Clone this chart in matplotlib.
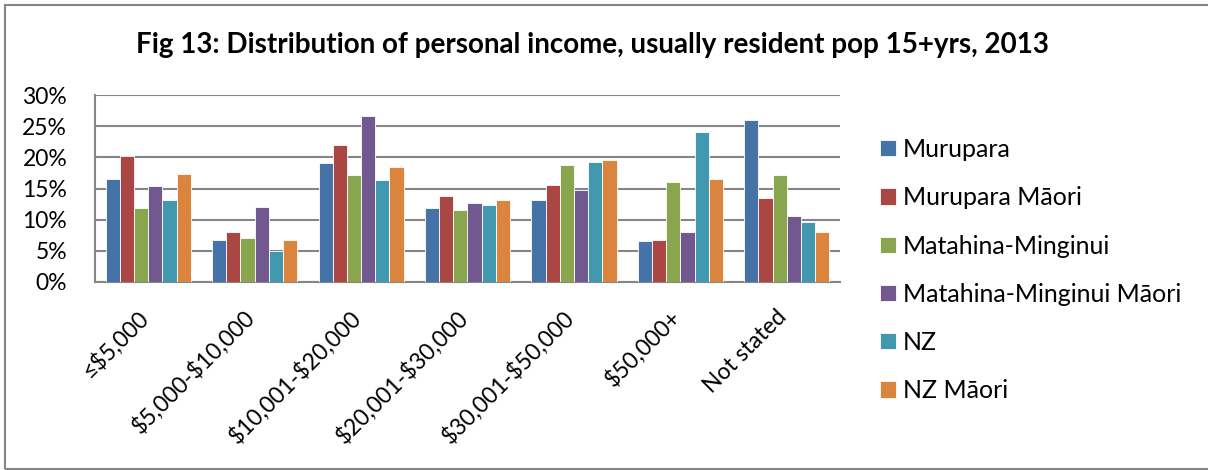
"""Fig 13: distribution of personal income, grouped bar chart."""

import matplotlib
import matplotlib.pyplot as plt
import numpy as np
from matplotlib.patches import Rectangle
from matplotlib.ticker import FuncFormatter
from matplotlib.transforms import ScaledTranslation

matplotlib.use("Agg")

plt.rcParams["font.family"] = ["Lato", "DejaVu Sans"]

CATEGORIES = [r"≤\$5,000", r"\$5,000-\$10,000", r"\$10,001-\$20,000", r"\$20,001-\$30,000",
              r"\$30,001-\$50,000", r"\$50,000+", "Not stated"]

SERIES = ["Murupara", "Murupara Māori", "Matahina-Minginui",
          "Matahina-Minginui Māori", "NZ", "NZ Māori"]

murupara = [16.5, 6.8, 19.1, 11.8, 13.1, 6.5, 26.0]
murupara_maori = [20.2, 8.1, 22.0, 13.8, 15.6, 6.7, 13.5]
matahina = [11.9, 7.1, 17.2, 11.6, 18.7, 16.1, 17.2]
matahina_maori = [15.4, 12.0, 26.6, 12.7, 14.7, 8.0, 10.6]
nz = [13.2, 4.9, 16.4, 12.4, 19.3, 24.1, 9.7]
nz_maori = [17.3, 6.7, 18.4, 13.1, 19.6, 16.6, 8.1]

COLORS = ["#4572A7", "#AA4643", "#89A54E", "#71588F", "#4198AF", "#DB843D"]

W, H = 1208, 470
fig = plt.figure(figsize=(W / 100, H / 100), dpi=100)

# outer chart border
fig.patches.append(Rectangle((5 / W, 1 / H), (W + 10) / W, 464 / H,
                             transform=fig.transFigure, fill=False,
                             edgecolor="#868686", linewidth=1.5))

ax = fig.add_axes([95 / W, 1 - 282 / H, (840 - 95) / W, (282 - 95) / H])

x = np.arange(len(CATEGORIES))
n = len(SERIES)
bar_w = 0.8 / n
data = [murupara, murupara_maori, matahina, matahina_maori, nz, nz_maori]
for i, (name, vals, color) in enumerate(zip(SERIES, data, COLORS)):
    ax.bar(x - 0.4 + bar_w * (i + 0.5), vals, width=bar_w, color=color,
           edgecolor="white", linewidth=0.6, label=name, zorder=3)

ax.set_xlim(-0.5, len(CATEGORIES) - 0.5)
ax.set_ylim(0, 30)
ax.set_yticks(np.arange(0, 31, 5))
ax.yaxis.set_major_formatter(FuncFormatter(lambda v, _: f"{v:.0f}%"))
ax.grid(axis="y", color="#868686", linewidth=1.5, zorder=0)
ax.set_axisbelow(True)

for side in ["top", "right"]:
    ax.spines[side].set_visible(False)
for side in ["left", "bottom"]:
    ax.spines[side].set_color("#868686")
    ax.spines[side].set_linewidth(1.5)

ax.tick_params(axis="both", length=0, labelsize=16.5)
ax.tick_params(axis="y", pad=20)
ax.tick_params(axis="x", pad=23)
ax.set_xticks(x)
ax.set_xticklabels(CATEGORIES, rotation=45, ha="right", va="center",
                   rotation_mode="anchor")
for lab in ax.get_xticklabels():
    lab.set_transform(lab.get_transform() + ScaledTranslation(-0.03, 0, fig.dpi_scale_trans))

fig.text(592 / W, 1 - 45 / H,
         "Fig 13: Distribution of personal income, usually resident pop 15+yrs, 2013",
         ha="center", va="center", fontsize=20, fontweight="bold")

fig.legend(loc="upper left", bbox_to_anchor=(880 / W, 1 - 138 / H), frameon=False,
           fontsize=18, borderpad=0, borderaxespad=0, labelspacing=1.01,
           handlelength=0.63, handleheight=0.63, handletextpad=0.3)

fig.savefig("out.png", dpi=100)
plt.close(fig)
